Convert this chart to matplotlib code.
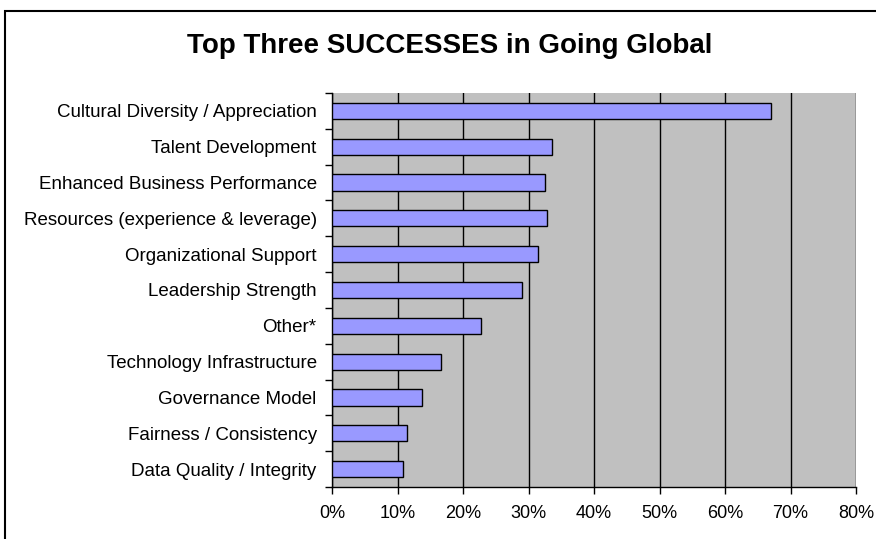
import matplotlib.pyplot as plt
from matplotlib.patches import Rectangle

# categories listed top to bottom
categories = ["Cultural Diversity / Appreciation", "Talent Development",
              "Enhanced Business Performance", "Resources (experience & leverage)",
              "Organizational Support", "Leadership Strength", "Other*",
              "Technology Infrastructure", "Governance Model",
              "Fairness / Consistency", "Data Quality / Integrity"]
values = [67.0, 33.6, 32.5, 32.9, 31.5, 29.0, 22.8, 16.6, 13.7, 11.5, 10.8]
xticks = [0, 10, 20, 30, 40, 50, 60, 70, 80]

plt.rcParams['font.family'] = ['Liberation Sans', 'DejaVu Sans']

fig = plt.figure(figsize=(8.76, 5.39), dpi=100)
ax = fig.add_axes([332 / 876, 1 - 487 / 539, (856 - 332) / 876, (487 - 93) / 539])

# outer chart border
fig.patches.append(Rectangle((5 / 876, -0.1), 1.2, 1 - 11 / 539 + 0.1,
                             transform=fig.transFigure, fill=False,
                             edgecolor="black", linewidth=1.5))

n = len(categories)
pos = list(range(n))[::-1]
ax.barh(pos, values, height=0.45, color="#9999FF", edgecolor="black",
        linewidth=1.0, zorder=3)

ax.set_facecolor("#C0C0C0")
ax.set_xlim(0, 80)
ax.set_ylim(-0.5, n - 0.5)
ax.set_xticks(xticks)
ax.set_xticklabels([f"{t}%" for t in xticks], fontsize=13)
ax.xaxis.grid(True, color="black", linewidth=1.0, zorder=1)

ax.set_yticks(pos)
ax.set_yticklabels(categories, fontsize=13.5)
ax.tick_params(axis="y", length=0, pad=11)
ax.set_yticks([i - 0.5 for i in range(n + 1)], minor=True)
ax.tick_params(axis="y", which="minor", length=5, width=1)
ax.tick_params(axis="x", length=5, width=1, pad=8)

for s in ["top", "right"]:
    ax.spines[s].set_visible(False)
for s in ["left", "bottom"]:
    ax.spines[s].set_linewidth(1.0)

fig.text(450 / 876, 1 - 53 / 539, "Top Three SUCCESSES in Going Global",
         ha="center", va="baseline", fontsize=20, fontweight="bold")

fig.savefig("out.png", dpi=100)
